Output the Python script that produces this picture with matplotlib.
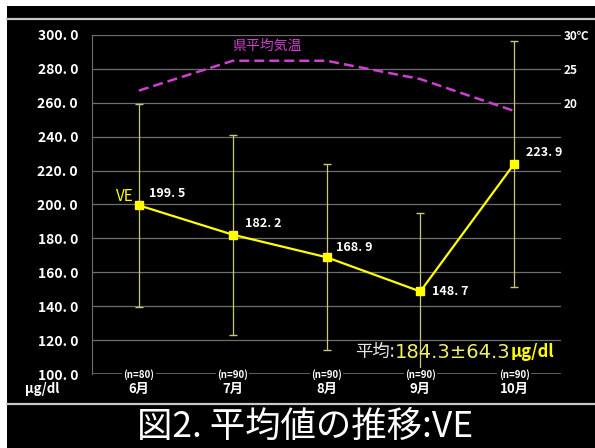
import matplotlib
matplotlib.use("Agg")
import matplotlib.pyplot as plt
from matplotlib.patches import Rectangle
from matplotlib.lines import Line2D

plt.rcParams["font.family"] = ["Noto Sans CJK JP", "DejaVu Sans"]

# data
months = ["6月", "7月", "8月", "9月", "10月"]
n_labels = ["(n=80)", "(n=90)", "(n=90)", "(n=90)", "(n=90)"]
ve_mean = [199.5, 182.2, 168.9, 148.7, 223.9]
ve_sd = [60.0, 59.0, 55.0, 46.5, 72.3]
temp = [21.8, 26.2, 26.2, 23.5, 18.8]
y_ticks = [100, 120, 140, 160, 180, 200, 220, 240, 260, 280, 300]
temp_ticks = [20, 25, 30]
temp_tick_labels = ["20", "25", "30℃"]
label_offsets = [(10, 12), (12, 11), (10, 10), (12, 0), (12, 11)]

W, H = 595, 448
YELLOW = "#ffff00"
ERR = "#c8c878"
MAGENTA = "#d040d0"
GRID = "#6e6e6e"

fig = plt.figure(figsize=(W / 100, H / 100), dpi=100, facecolor="black")

# white margins at top and left, gray rules
fig.patches.append(Rectangle((0, 1 - 6 / H), 1, 6 / H, transform=fig.transFigure,
                             facecolor="white", edgecolor="none", zorder=0))
fig.patches.append(Rectangle((0, 0), 7 / W, 1, transform=fig.transFigure,
                             facecolor="white", edgecolor="none", zorder=0))
fig.lines.append(Line2D([7 / W, 1], [1 - 19 / H] * 2, transform=fig.transFigure,
                        color="#c8c8c8", lw=1.6))
fig.lines.append(Line2D([7 / W, 1], [1 - 404 / H] * 2, transform=fig.transFigure,
                        color="#c8c8c8", lw=1.6))

ax = fig.add_axes([92 / W, 1 - 374 / H, (561 - 92) / W, (374 - 35) / H])
ax.set_facecolor("black")
x = list(range(len(months)))

ax.set_xlim(-0.5, len(months) - 0.5)
ax.set_ylim(100, 300)
ax.set_yticks(y_ticks)
ax.set_yticklabels([f"{v:.1f}".replace(".", ". ") for v in y_ticks],
                   color="white", fontsize=10, fontweight="bold")
ax.tick_params(axis="y", length=0, pad=10)
ax.set_xticks([])
ax.grid(axis="y", color=GRID, lw=0.9)
for side in ["top", "right", "bottom"]:
    ax.spines[side].set_visible(False)
ax.spines["left"].set_color(GRID)
ax.axhline(100, color=GRID, lw=1.2, zorder=1)

ax.errorbar(x, ve_mean, yerr=ve_sd, fmt="none", ecolor=ERR, elinewidth=0.9,
            capsize=3, capthick=1, zorder=2)
ax.plot(x, ve_mean, color=YELLOW, lw=1.6, marker="s", markersize=6,
        markerfacecolor=YELLOW, markeredgecolor=YELLOW, zorder=3)

for xi, v, off in zip(x, ve_mean, label_offsets):
    ax.annotate(f"{v:.1f}".replace(".", ". "), (xi, v), xytext=off,
                textcoords="offset pixels", color="white", fontsize=9,
                fontweight="bold", ha="left", va="center")
ax.annotate("VE", (x[0], ve_mean[0]), xytext=(-5, 9), textcoords="offset pixels",
            color=YELLOW, fontsize=11, ha="right", va="center")

trans = ax.get_xaxis_transform()
for xi, m, n in zip(x, months, n_labels):
    ax.text(xi, -0.002, n, transform=trans, color="white", fontsize=7,
            ha="center", va="center", fontweight="bold",
            bbox=dict(facecolor="black", edgecolor="none", pad=1))
    ax.text(xi, -0.044, m, transform=trans, color="white", fontsize=9.5,
            ha="center", va="center", fontweight="bold")

# temperature on a second axis
ax2 = ax.twinx()
ax2.set_ylim(-20, 30)
ax2.plot(x, temp, color=MAGENTA, lw=1.8, dashes=(4, 2))
ax2.set_yticks(temp_ticks)
ax2.set_yticklabels(temp_tick_labels, color="white", fontsize=8.5, fontweight="bold")
ax2.tick_params(axis="y", length=0, pad=2)
for side in ["top", "right", "bottom", "left"]:
    ax2.spines[side].set_visible(False)
ax.text(1.0, 293.5, "県平均気温", color=MAGENTA, fontsize=10, ha="left", va="center")

fig.text(25 / W, 1 - 389 / H, "μg/dl", color="white", fontsize=9.5,
         fontweight="bold", ha="left", va="center")

# mean ± sd note, pieces chained left to right
fig.canvas.draw()
r = fig.canvas.get_renderer()
ny = 1 - 352 / H
t1 = fig.text(355 / W, ny, "平均:", color="#e8e8e8", fontsize=12.5, ha="left", va="center")
bb = t1.get_window_extent(r)
t2 = fig.text(bb.x1 / W, ny, "184.3±64.3", color="#f0f060", fontsize=14,
              ha="left", va="center", family=["DejaVu Sans", "Noto Sans CJK JP"])
bb = t2.get_window_extent(r)
fig.text(bb.x1 / W + 1 / W, ny, "μg/dl", color=YELLOW, fontsize=12,
         fontweight="bold", ha="left", va="center")

fig.text(305 / W, 1 - 427 / H, "図2. 平均値の推移:VE", color="white", fontsize=25.5,
         ha="center", va="center")

fig.savefig("out.png", dpi=100, facecolor="black")
